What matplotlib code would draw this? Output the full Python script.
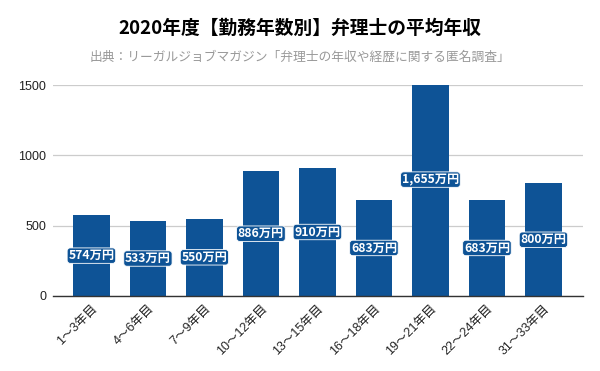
import matplotlib
matplotlib.use("Agg")
import matplotlib.pyplot as plt
import numpy as np

plt.rcParams["font.family"] = ["Noto Sans CJK JP", "DejaVu Sans"]
latin_first = ["Liberation Sans", "Noto Sans CJK JP"]

categories = ["1～3年目", "4～6年目", "7～9年目", "10～12年目", "13～15年目",
              "16～18年目", "19～21年目", "22～24年目", "31～33年目"]
salaries = [574, 533, 550, 886, 910, 683, 1655, 683, 800]
y_ticks = [0, 500, 1000, 1500]

bar_color = "#0e5396"

fig = plt.figure(figsize=(6, 3.71), dpi=100)
ax = fig.add_axes([53 / 600, 1 - 296 / 371, 530 / 600, 211 / 371])

x = np.arange(len(categories))
ax.bar(x, salaries, width=0.65, color=bar_color, zorder=2)

for xi, v in zip(x, salaries):
    ax.text(xi, v / 2, f"{v:,}万円", ha="center", va="center", color="white",
            fontsize=8.8, fontweight="bold", zorder=3, clip_on=False,
            bbox=dict(boxstyle="round,pad=0.1,rounding_size=0.25",
                      facecolor=bar_color, edgecolor="white", linewidth=0.6))

ax.set_ylim(0, 1500)
ax.set_xlim(-0.68, 8.7)
ax.set_yticks(y_ticks)
ax.set_yticklabels([str(t) for t in y_ticks], fontsize=9, color="#222222",
                   family=latin_first)
ax.set_xticks(x)
ax.set_xticklabels(categories, rotation=45, ha="right", rotation_mode="anchor",
                   fontsize=9, color="#222222", family=latin_first)
ax.tick_params(axis="both", length=0, pad=5)
ax.yaxis.grid(True, color="#cccccc", linewidth=0.9, zorder=0)
for side in ["top", "right", "left"]:
    ax.spines[side].set_visible(False)
ax.spines["bottom"].set_color("#333333")
ax.spines["bottom"].set_linewidth(1.0)
ax.spines["bottom"].set_zorder(4)

fig.text(0.5, 1 - 28 / 371, "2020年度【勤務年数別】弁理士の平均年収", ha="center",
         va="center", fontsize=13.5, fontweight="bold", color="#000000")
fig.text(0.5, 1 - 57 / 371,
         "出典：リーガルジョブマガジン「弁理士の年収や経歴に関する匿名調査」",
         ha="center", va="center", fontsize=9.2, color="#999999")

fig.savefig("out.png", dpi=100)
